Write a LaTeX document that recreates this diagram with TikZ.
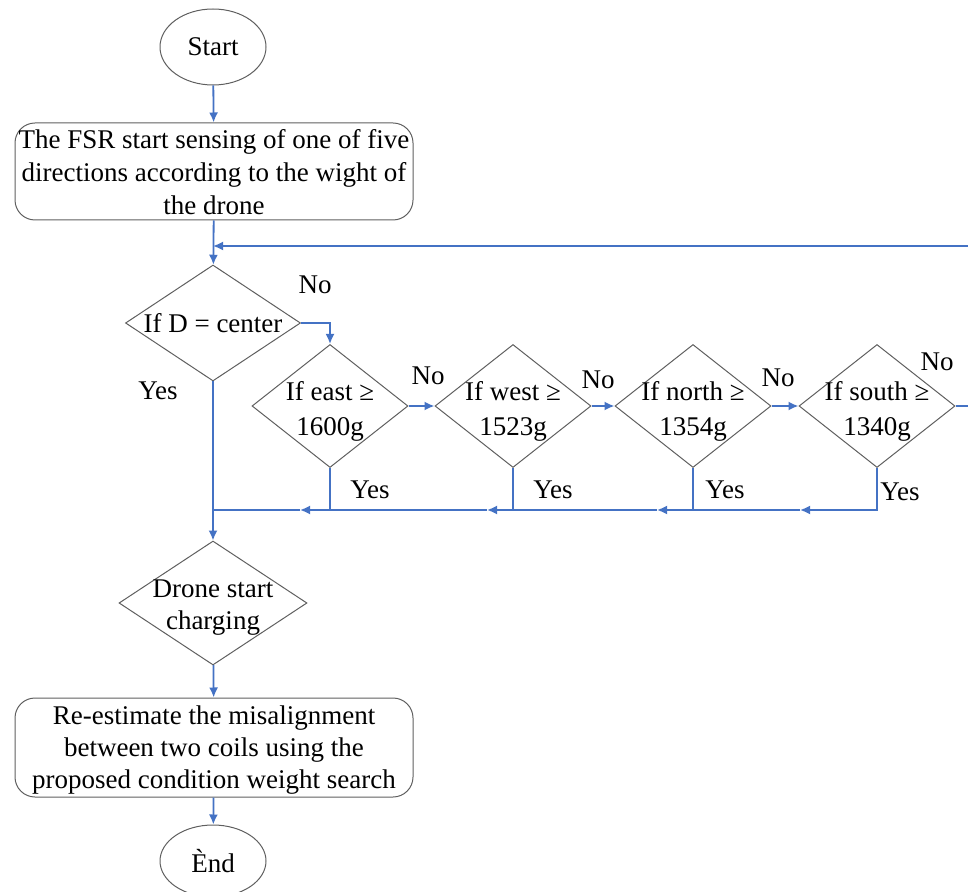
\documentclass[tikz,border=0pt]{standalone}
\usepackage{fontspec}
\setmainfont{Liberation Serif}
\usetikzlibrary{shapes.geometric,arrows.meta}
\definecolor{flowblue}{RGB}{68,114,196}
\definecolor{shapegray}{RGB}{95,95,95}
\begin{document}
\begin{tikzpicture}[x=0.5pt,y=-0.5pt,
  every node/.style={font=\rmfamily\fontsize{13.5}{17.5}\selectfont},
  flow/.style={draw=flowblue, line width=0.9pt},
  arr/.style={flow,-{Latex[length=5pt,width=4.5pt]}},
  term/.style={draw=shapegray, ellipse, minimum width=53pt, minimum height=38pt, inner sep=0pt, line width=0.5pt},
  proc/.style={draw=shapegray, rounded corners=10pt, minimum width=199pt, minimum height=48.5pt, inner sep=0pt, line width=0.5pt},
  dec/.style={draw=shapegray, diamond, inner sep=0pt, line width=0.5pt},
  small/.style={dec, minimum width=78pt, minimum height=61.5pt},
  txt/.style={align=center, yshift=-2.5pt}
]
\useasboundingbox (0,0) rectangle (968,892);

% nodes
\node[term] (start) at (213,47) {Start};
\node[proc, label={[txt, yshift=2pt, font=\rmfamily\fontsize{13.5}{16.5}\selectfont]center:{The FSR start sensing of one of five\\directions according to the wight of\\the drone}}] (fsr) at (214,171.5) {};
\node[dec, minimum width=87.5pt, minimum height=58pt, label={center:{If D = center}}] (dcen) at (213,323) {};
\node[small, label={[txt]center:{If east ≥\\1600g}}] (east) at (330,406) {};
\node[small, label={[txt]center:{If west ≥\\1523g}}] (west) at (513,406) {};
\node[small, label={[txt]center:{If north ≥\\1354g}}] (north) at (693,406) {};
\node[small, label={[txt]center:{If south ≥\\1340g}}] (south) at (877,406) {};
\node[dec, minimum width=94pt, minimum height=62pt, label={[txt, font=\rmfamily\fontsize{13.5}{16}\selectfont]center:{Drone start\\charging}}] (drone) at (213,603) {};
\node[proc, minimum height=49.5pt, label={[txt, yshift=1pt, font=\rmfamily\fontsize{13.5}{16}\selectfont]center:{Re-estimate the misalignment\\between two coils using the\\proposed condition weight search}}] (reest) at (214,747.5) {};
\node[term, minimum height=36pt] (end) at (213,861) {Ènd};

% labels
\node (no0) at (315,285) {No};
\node (no1) at (428,376) {No};
\node (no2) at (598,380) {No};
\node (no3) at (778,378) {No};
\node (no4) at (937,362) {No};
\node (yes0) at (158,391) {Yes};
\node (yes1) at (370,490) {Yes};
\node (yes2) at (553,490) {Yes};
\node (yes3) at (725,490) {Yes};
\node (yes4) at (900,492) {Yes};

% helper coordinates
\coordinate (loopy) at (0,246);
\coordinate (cy) at (0,510);
\coordinate (rtop) at (992,246);
\coordinate (aS) at (800,510);
\coordinate (aN) at (657,510);
\coordinate (aW) at (487,510);
\coordinate (aE) at (300,510);

% connectors
\draw[arr] (start) -- (fsr);
\draw[arr] (fsr) -- (dcen);
\draw[arr] (south.east) -| (rtop) -- (dcen.north |- loopy);
\draw[arr] (dcen.east) -| (east.north);
\draw[arr] (east.east) -- (west.west);
\draw[arr] (west.east) -- (north.west);
\draw[arr] (north.east) -- (south.west);

\draw[arr] (south.south) |- (aS);
\draw[flow] (aS) -- (north.south |- cy);
\draw[arr] (north.south) |- (aN);
\draw[flow] (aN) -- (west.south |- cy);
\draw[arr] (west.south) |- (aW);
\draw[flow] (aW) -- (east.south |- cy);
\draw[arr] (east.south) |- (aE);
\draw[flow] (aE) -- (dcen.south |- cy);
\draw[arr] (dcen.south) -- (drone.north);
\draw[arr] (drone) -- (reest);
\draw[arr] (reest) -- (end);
\end{tikzpicture}
\end{document}
